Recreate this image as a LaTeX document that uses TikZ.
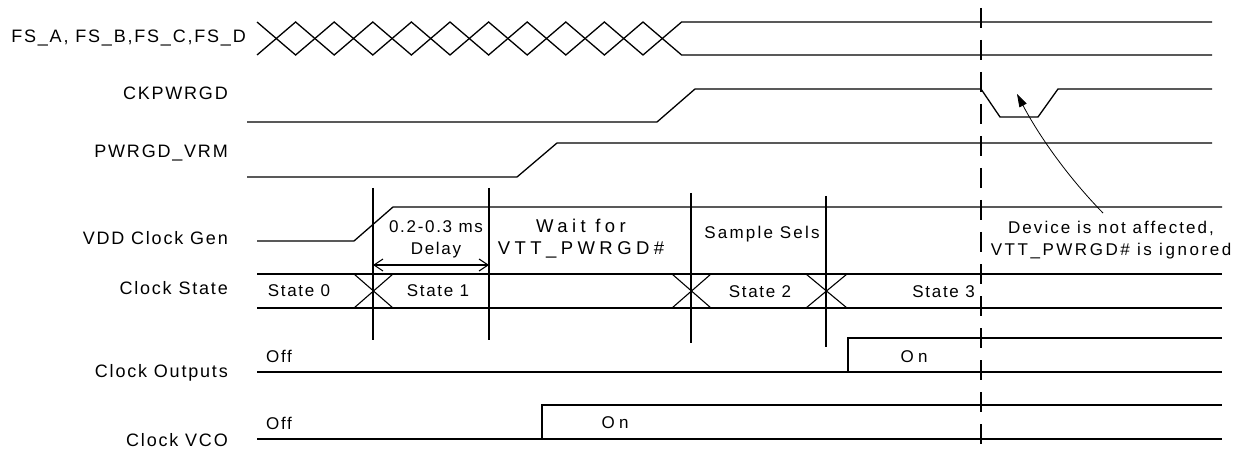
\documentclass[tikz,border=0pt]{standalone}
\usepackage{fontspec}
\setmainfont{Liberation Sans}[LetterSpace=10]
\usetikzlibrary{arrows.meta}
\begin{document}
\begin{tikzpicture}[x=1pt,y=-1pt,
  sig/.style={line width=1.3pt, line join=miter},
  thin/.style={line width=1.1pt},
  lbl/.style={font=\fontsize{18}{20}\selectfont, anchor=east, inner sep=0pt},
  txt/.style={font=\fontsize{17}{22}\selectfont, inner sep=0pt, align=center},
  marker/.style={line width=2.6pt, dash pattern=on 20pt off 12pt},
  ]
\useasboundingbox (0,0) rectangle (1245,449);
% labels
\node[lbl] (lfs)  at (246,38)  {FS\_A, FS\_B,FS\_C,FS\_D};
\node[lbl] (lck)  at (228,93)  {CKPWRGD};
\node[lbl] (lvrm) at (228,153) {PWRGD\_VRM};
\node[lbl] (lvdd) at (228,238) {VDD Clock Gen};
\node[lbl] (lst)  at (228,288) {Clock State};
\node[lbl] (lout) at (228,373) {Clock Outputs};
\node[lbl] (lvco) at (228,440) {Clock VCO};
% FS bus
\draw[sig] (257,22)--(295.6,55)--(334.2,22)--(372.8,55)--(411.4,22)--(450,55)--(488.6,22)--(527.2,55)--(565.8,22)--(604.4,55)--(643,22)--(681.6,55)--(1212,55);
\draw[sig] (257,55)--(295.6,22)--(334.2,55)--(372.8,22)--(411.4,55)--(450,22)--(488.6,55)--(527.2,22)--(565.8,55)--(604.4,22)--(643,55)--(681.6,22)--(1212,22);
% CKPWRGD
\draw[sig] (247,122)--(657,122)--(695,89)--(981,89)--(1000,117)--(1038,117)--(1058,89)--(1212,89);
% PWRGD_VRM
\draw[sig] (247,177)--(517,177)--(557,143)--(1212,143);
% VDD Clock Gen
\draw[sig] (257,241)--(354,241)--(393,207)--(1222,207);
% Clock state bus
\draw[sig] (257,274)--(1222,274);
\draw[sig] (257,308)--(1222,308);
\draw[thin] (354,274)--(393,308) (354,308)--(393,274);
\draw[thin] (672,274)--(711,308) (672,308)--(711,274);
\draw[thin] (806,274)--(847,308) (806,308)--(847,274);
% verticals
\draw[thin] (373,188)--(373,340);
\draw[thin] (489,188)--(489,340);
\draw[thin] (691,193)--(691,343);
\draw[thin] (826,196)--(826,347);
% delay arrow
\coordinate (d1) at (373,265);
\coordinate (d2) at (489,265);
\draw[thin, {Straight Barb[length=9pt,width=12pt]}-{Straight Barb[length=9pt,width=12pt]}] (d1)--(d2);
% Clock outputs
\draw[sig] (257,372)--(1222,372);
\draw[sig] (848,372)--(848,338)--(1222,338);
% Clock VCO
\draw[sig] (257,439)--(1222,439);
\draw[sig] (542,439)--(542,405)--(1222,405);
% texts
\node[txt] (tdelay) at (436,239) {0.2-0.3 ms\\Delay};
\node[txt, font=\fontsize{18.5}{22}\selectfont] (twait) at (581,239)
  {{\addfontfeature{LetterSpace=24}Wait for}\\{\addfontfeature{LetterSpace=24}VTT\_PWRGD\#}};
\node[txt] (tsamp)  at (762,234) {\addfontfeature{LetterSpace=13}Sample Sels};
\node[txt] (s0) at (299,291) {State 0};
\node[txt] (s1) at (438,291) {State 1};
\node[txt] (s2) at (760,292) {State 2};
\node[txt, anchor=east] (s3) at (975,292) {State 3};
\node[txt] (off1) at (279,356) {Off};
\node[txt] (on1)  at (914,357) {\addfontfeature{LetterSpace=25}On};
\node[txt] (off2) at (279,423) {Off};
\node[txt] (on2)  at (615,423) {\addfontfeature{LetterSpace=25}On};
\node[txt] (note) at (1111,240) {{\addfontfeature{LetterSpace=12}Device is not affected,}\\{\addfontfeature{LetterSpace=15}VTT\_PWRGD\# is ignored}};
% marker line
\coordinate (mtop) at (981,8);
\coordinate (mbot) at (981,449);
\draw[marker] (mtop)--(mbot);
% note arrow
\coordinate (tail) at (1103,213);
\coordinate (tip) at (1017,94);
\draw[line width=0.8pt, -{Triangle[length=13pt,width=8pt]}] (tail) .. controls (1066,175) and (1038,134) .. (tip);
\end{tikzpicture}
\end{document}
